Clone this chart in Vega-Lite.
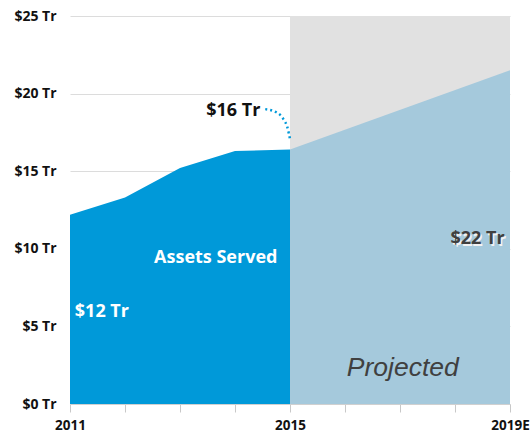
{
  "$schema": "https://vega.github.io/schema/vega-lite/v6.json",
  "width": 440,
  "height": 388,
  "autosize": {"type": "none"},
  "padding": {"left": 70, "top": 16, "right": 20, "bottom": 28},
  "background": "white",
  "config": {
    "view": {"stroke": null},
    "font": "Open Sans",
    "axis": {"labelFont": "Open Sans", "labelFontWeight": "bold", "labelFontSize": 13.5, "labelColor": "#111111", "gridColor": "#dcdcdc", "domainColor": "#d0d0d0", "tickColor": "#c8c8c8"}
  },
  "layer": [
    {
      "data": {"values": [{"year": 2015, "top": 25}, {"year": 2019, "top": 25}]},
      "mark": {"type": "area", "color": "#e1e1e1"},
      "encoding": {
        "x": {"field": "year", "type": "quantitative", "scale": {"domain": [2011, 2019], "nice": false, "zero": false},
          "axis": {"values": [2011, 2012, 2013, 2014, 2015, 2016, 2017, 2018, 2019], "labelExpr": "datum.value == 2011 ? '2011' : datum.value == 2015 ? '2015' : datum.value == 2019 ? '2019E' : ''", "labelFlush": false, "labelOverlap": false, "grid": false, "title": null, "tickSize": 8, "labelPadding": 6, "labelFontSize": 13.5}},
        "y": {"field": "top", "type": "quantitative", "scale": {"domain": [0, 25], "nice": false},
          "axis": {"values": [0, 5, 10, 15, 20, 25], "labelExpr": "'$' + datum.value + ' Tr'", "labelFlush": false, "title": null, "domain": false, "ticks": false, "labelPadding": 14, "labelFontSize": 14}}
      }
    },
    {
      "data": {"values": [{"year": 2015, "value": 16.4}, {"year": 2019, "value": 21.5}]},
      "mark": {"type": "area", "color": "#a5c9dc"},
      "encoding": {
        "x": {"field": "year", "type": "quantitative"},
        "y": {"field": "value", "type": "quantitative"}
      }
    },
    {
      "data": {"values": [{"year": 2011, "value": 12.2}, {"year": 2012, "value": 13.3}, {"year": 2013, "value": 15.2}, {"year": 2014, "value": 16.3}, {"year": 2015, "value": 16.4}]},
      "mark": {"type": "area", "color": "#0099d9"},
      "encoding": {
        "x": {"field": "year", "type": "quantitative"},
        "y": {"field": "value", "type": "quantitative"}
      }
    },
    {
      "data": {"values": [{"x": 2014.55, "y": 19.0}, {"x": 2014.75, "y": 18.8}, {"x": 2014.88, "y": 18.36}, {"x": 2014.95, "y": 17.85}, {"x": 2015, "y": 17.07}]},
      "mark": {"type": "line", "color": "#0099d9", "strokeWidth": 2.5, "strokeDash": [2, 3], "interpolate": "monotone"},
      "encoding": {
        "x": {"field": "x", "type": "quantitative"},
        "y": {"field": "y", "type": "quantitative"}
      }
    },
    {
      "data": {"values": [
        {"x": 2013.65, "y": 9.4, "label": "Assets Served"},
        {"x": 2011.58, "y": 5.92, "label": "$12 Tr"}
      ]},
      "mark": {"type": "text", "color": "white", "fontWeight": "bold", "fontSize": 18, "font": "Open Sans"},
      "encoding": {
        "x": {"field": "x", "type": "quantitative"},
        "y": {"field": "y", "type": "quantitative"},
        "text": {"field": "label"}
      }
    },
    {
      "data": {"values": [{"x": 2013.97, "y": 18.85, "label": "$16 Tr"}]},
      "mark": {"type": "text", "color": "#111111", "fontWeight": "bold", "fontSize": 18, "font": "Open Sans"},
      "encoding": {
        "x": {"field": "x", "type": "quantitative"},
        "y": {"field": "y", "type": "quantitative"},
        "text": {"field": "label"}
      }
    },
    {
      "data": {"values": [{"x": 2018.41, "y": 10.6, "label": "$22 Tr"}]},
      "mark": {"type": "text", "color": "#f2f2f2", "fontWeight": "bold", "fontSize": 18, "font": "Open Sans", "dx": 1.5, "dy": 1.5},
      "encoding": {
        "x": {"field": "x", "type": "quantitative"},
        "y": {"field": "y", "type": "quantitative"},
        "text": {"field": "label"}
      }
    },
    {
      "data": {"values": [{"x": 2018.41, "y": 10.6, "label": "$22 Tr"}]},
      "mark": {"type": "text", "color": "#404040", "fontWeight": "bold", "fontSize": 18, "font": "Open Sans"},
      "encoding": {
        "x": {"field": "x", "type": "quantitative"},
        "y": {"field": "y", "type": "quantitative"},
        "text": {"field": "label"}
      }
    },
    {
      "data": {"values": [{"x": 2017.05, "y": 2.3, "label": "Projected"}]},
      "mark": {"type": "text", "color": "#404040", "fontStyle": "italic", "fontSize": 26.5, "font": "Liberation Sans"},
      "encoding": {
        "x": {"field": "x", "type": "quantitative"},
        "y": {"field": "y", "type": "quantitative"},
        "text": {"field": "label"}
      }
    }
  ]
}
